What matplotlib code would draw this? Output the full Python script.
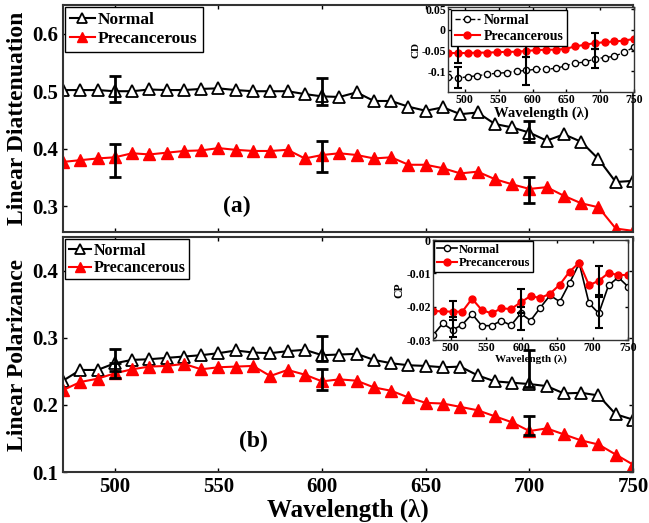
import numpy as np
import matplotlib
matplotlib.use('Agg')
import matplotlib.pyplot as plt

plt.rcParams['font.family'] = ['Liberation Serif', 'DejaVu Serif']
plt.rcParams['font.weight'] = 'bold'
plt.rcParams['axes.labelweight'] = 'bold'

# main panels: wavelength grid (34 samples, 475-750 nm)
wl = np.linspace(475, 750, 34)

ld_normal = [0.502, 0.502, 0.502, 0.500, 0.500, 0.503, 0.502, 0.502, 0.504, 0.505,
             0.502, 0.500, 0.500, 0.500, 0.495, 0.491, 0.490, 0.498, 0.483, 0.483,
             0.473, 0.466, 0.472, 0.460, 0.463, 0.443, 0.437, 0.428, 0.414, 0.425,
             0.412, 0.382, 0.342, 0.344]
ld_precan = [0.377, 0.380, 0.383, 0.385, 0.392, 0.390, 0.393, 0.396, 0.397, 0.401,
             0.398, 0.396, 0.396, 0.398, 0.383, 0.389, 0.392, 0.389, 0.383, 0.385,
             0.372, 0.372, 0.366, 0.357, 0.360, 0.347, 0.338, 0.330, 0.333, 0.318,
             0.305, 0.298, 0.261, 0.257]

lp_normal = [0.236, 0.252, 0.252, 0.262, 0.267, 0.268, 0.270, 0.272, 0.274, 0.277,
             0.281, 0.278, 0.277, 0.280, 0.282, 0.274, 0.275, 0.276, 0.267, 0.262,
             0.259, 0.258, 0.256, 0.257, 0.244, 0.235, 0.233, 0.231, 0.228, 0.217,
             0.218, 0.214, 0.186, 0.178]
lp_precan = [0.222, 0.234, 0.239, 0.247, 0.253, 0.257, 0.258, 0.261, 0.253, 0.256,
             0.257, 0.258, 0.243, 0.252, 0.245, 0.235, 0.238, 0.236, 0.226, 0.221,
             0.211, 0.203, 0.202, 0.197, 0.192, 0.183, 0.174, 0.161, 0.165, 0.156,
             0.147, 0.141, 0.126, 0.111]

# error bars (wavelength, low, high)
err_wl = [500, 600, 700]
ld_n_lo = [0.481, 0.476, 0.411]; ld_n_hi = [0.526, 0.523, 0.448]
ld_p_lo = [0.351, 0.360, 0.305]; ld_p_hi = [0.408, 0.414, 0.350]
lp_n_lo = [0.250, 0.266, 0.226]; lp_n_hi = [0.283, 0.303, 0.281]
lp_p_lo = [0.240, 0.222, 0.155]; lp_p_hi = [0.262, 0.254, 0.184]

# inset (a): CD
wl_cd = np.linspace(475, 750, 20)
cd_normal = [-0.115, -0.117, -0.113, -0.111, -0.107, -0.105, -0.103, -0.100, -0.098, -0.095,
             -0.095, -0.093, -0.087, -0.080, -0.078, -0.070, -0.067, -0.064, -0.054, -0.042]
cd_precan = [-0.056, -0.056, -0.056, -0.055, -0.055, -0.054, -0.053, -0.053, -0.051, -0.049,
             -0.048, -0.048, -0.046, -0.040, -0.036, -0.032, -0.030, -0.028, -0.026, -0.022]
cd_err_wl = [wl_cd[1], wl_cd[8], wl_cd[15]]
cd_n_lo = [-0.140, -0.133, -0.091]; cd_n_hi = [-0.090, -0.066, -0.046]
cd_p_lo = [-0.080, -0.066, -0.046]; cd_p_hi = [-0.032, -0.032, -0.008]

# inset (b): CP
wl_cp = np.linspace(475, 750, 21)
cp_normal = [-0.0286, -0.0250, -0.0270, -0.0254, -0.0222, -0.0257, -0.0257, -0.0242, -0.0256, -0.0220,
             -0.0242, -0.0203, -0.0166, -0.0185, -0.0129, -0.0070, -0.0190, -0.0220, -0.0136, -0.0112,
             -0.0140]
cp_precan = [-0.0213, -0.0214, -0.0215, -0.0215, -0.0176, -0.0210, -0.0220, -0.0205, -0.0207, -0.0187,
             -0.0168, -0.0174, -0.0161, -0.0134, -0.0095, -0.0068, -0.0136, -0.0122, -0.0099, -0.0105,
             -0.0105]
cp_err_wl = [wl_cp[2], wl_cp[9], wl_cp[17]]
cp_n_lo = [-0.0290, -0.0271, -0.0264]; cp_n_hi = [-0.0230, -0.0200, -0.0170]
cp_p_lo = [-0.0240, -0.0220, -0.0165]; cp_p_hi = [-0.0183, -0.0148, -0.0077]

RED = '#ff0000'


def errbars(ax, x, lo, hi, lw=2, cap=4):
    lo = np.array(lo); hi = np.array(hi)
    mid = (lo + hi) / 2
    ax.errorbar(x, mid, yerr=(hi - lo) / 2, fmt='none', ecolor='k',
                elinewidth=lw, capsize=cap, capthick=lw, zorder=5)


def style(ax, size, lw=1.2):
    ax.tick_params(direction='in', top=True, right=True, labelsize=size, width=1, length=3)
    for s in ax.spines.values():
        s.set_linewidth(lw)
        s.set_color('#333333')
    for lab in ax.get_xticklabels() + ax.get_yticklabels():
        lab.set_fontweight('bold')


def box_legend(ax, size, **kw):
    leg = ax.legend(loc='upper left', frameon=True, fancybox=False,
                    prop={'weight': 'bold', 'size': size}, **kw)
    leg.get_frame().set_edgecolor('k')
    leg.get_frame().set_linewidth(1)
    leg.get_frame().set_alpha(1)


fig = plt.figure(figsize=(6.49, 5.23), dpi=100)
ax1 = fig.add_axes([0.0971, 0.5564, 0.8783, 0.434])
ax2 = fig.add_axes([0.0971, 0.0975, 0.8783, 0.4493])

# panel (a)
ax1.plot(wl, ld_normal, '-^', color='k', mfc='white', mec='k', ms=8, mew=1.3, lw=1.5, label='Normal')
ax1.plot(wl, ld_precan, '-^', color=RED, mfc=RED, mec=RED, ms=8, lw=1.5, label='Precancerous')
errbars(ax1, err_wl, ld_n_lo, ld_n_hi)
errbars(ax1, err_wl, ld_p_lo, ld_p_hi)
ax1.set_xlim(475, 750)
ax1.set_ylim(0.255, 0.65)
ax1.set_xticks([500, 550, 600, 650, 700])
ax1.set_xticklabels([])
ax1.set_yticks([0.3, 0.4, 0.5, 0.6])
ax1.set_yticklabels(['0.3', '0.4', '0.5', '0.6'])
ax1.set_ylabel('Linear Diattenuation', fontsize=17, fontweight='bold', labelpad=3)
ax1.text(559, 0.3, '(a)', fontsize=17, fontweight='bold', ha='center', va='center')
style(ax1, 15, 1.5)
box_legend(ax1, 12.5, handlelength=1.4, handletextpad=0.2, borderpad=0.3,
           labelspacing=0.15, borderaxespad=0.12, markerscale=0.85)

# panel (b)
ax2.plot(wl, lp_normal, '-^', color='k', mfc='white', mec='k', ms=8, mew=1.3, lw=1.5, label='Normal')
ax2.plot(wl, lp_precan, '-^', color=RED, mfc=RED, mec=RED, ms=8, lw=1.5, label='Precancerous')
errbars(ax2, err_wl, lp_n_lo, lp_n_hi)
errbars(ax2, err_wl, lp_p_lo, lp_p_hi)
ax2.set_xlim(475, 750)
ax2.set_ylim(0.1, 0.45)
ax2.set_xticks([500, 550, 600, 650, 700, 750])
ax2.set_xticklabels(['500', '550', '600', '650', '700', '750'])
ax2.set_yticks([0.1, 0.2, 0.3, 0.4])
ax2.set_yticklabels(['0.1', '0.2', '0.3', '0.4'])
ax2.set_ylabel('Linear Polarizance', fontsize=17, fontweight='bold', labelpad=3)
ax2.set_xlabel('Wavelength (λ)', fontsize=18, fontweight='bold', labelpad=1)
ax2.text(567, 0.146, '(b)', fontsize=17, fontweight='bold', ha='center', va='center')
style(ax2, 15, 1.5)
box_legend(ax2, 11.5, handlelength=1.4, handletextpad=0.2, borderpad=0.2,
           labelspacing=0.1, borderaxespad=0.15, markerscale=0.85)

# inset (a): CD
ins1 = fig.add_axes([0.6903, 0.8241, 0.2866, 0.1625])
ins1.set_facecolor('white')
ins1.plot(wl_cd, cd_normal, '--o', color='k', mfc='white', mec='k', ms=4.5, mew=1, lw=1, label='Normal')
ins1.plot(wl_cd, cd_precan, '-o', color=RED, mfc=RED, mec=RED, ms=5, lw=1.5, label='Precancerous')
errbars(ins1, cd_err_wl, cd_n_lo, cd_n_hi, lw=1.5, cap=3)
errbars(ins1, cd_err_wl, cd_p_lo, cd_p_hi, lw=1.5, cap=3)
ins1.set_xlim(475, 750)
ins1.set_ylim(-0.15, 0.055)
ins1.set_xticks([500, 550, 600, 650, 700, 750])
ins1.set_xticklabels(['500', '550', '600', '650', '700', '750'])
ins1.set_yticks([-0.1, -0.05, 0, 0.05])
ins1.set_yticklabels(['-0.1', '-0.05', '0', '0.05'])
ins1.set_ylabel('CD', fontsize=8, fontweight='bold', labelpad=1)
ins1.set_xlabel('Wavelength (λ)', fontsize=10.5, fontweight='bold', labelpad=0)
style(ins1, 8.5, 1)
ins1.tick_params(pad=1.5, length=2)
box_legend(ins1, 10, handlelength=1.8, handletextpad=0.3, borderpad=0.25,
           labelspacing=0.2, borderaxespad=0.25)

# inset (b): CP
ins2 = fig.add_axes([0.6672, 0.3499, 0.3005, 0.1912])
ins2.set_facecolor('white')
ins2.plot(wl_cp, cp_normal, '-o', color='k', mfc='white', mec='k', ms=4.5, mew=1, lw=1.2, label='Normal')
ins2.plot(wl_cp, cp_precan, '-o', color=RED, mfc=RED, mec=RED, ms=5, lw=1.5, label='Precancerous')
errbars(ins2, cp_err_wl, cp_n_lo, cp_n_hi, lw=1.5, cap=3)
errbars(ins2, cp_err_wl, cp_p_lo, cp_p_hi, lw=1.5, cap=3)
ins2.set_xlim(475, 750)
ins2.set_ylim(-0.03, 0)
ins2.set_xticks([500, 550, 600, 650, 700, 750])
ins2.set_xticklabels(['500', '550', '600', '650', '700', '750'])
ins2.set_yticks([-0.03, -0.02, -0.01, 0])
ins2.set_yticklabels(['-0.03', '-0.02', '-0.01', '0'])
ins2.set_ylabel('CP', fontsize=8.5, fontweight='bold', labelpad=1)
ins2.set_xlabel('Wavelength (λ)', fontsize=8, fontweight='bold', labelpad=0)
style(ins2, 8.5, 1)
ins2.tick_params(pad=1.5, length=2)
box_legend(ins2, 9, handlelength=1.6, handletextpad=0.2, borderpad=0.2,
           labelspacing=0.1, borderaxespad=0.1)

fig.savefig('out.png', dpi=100)
